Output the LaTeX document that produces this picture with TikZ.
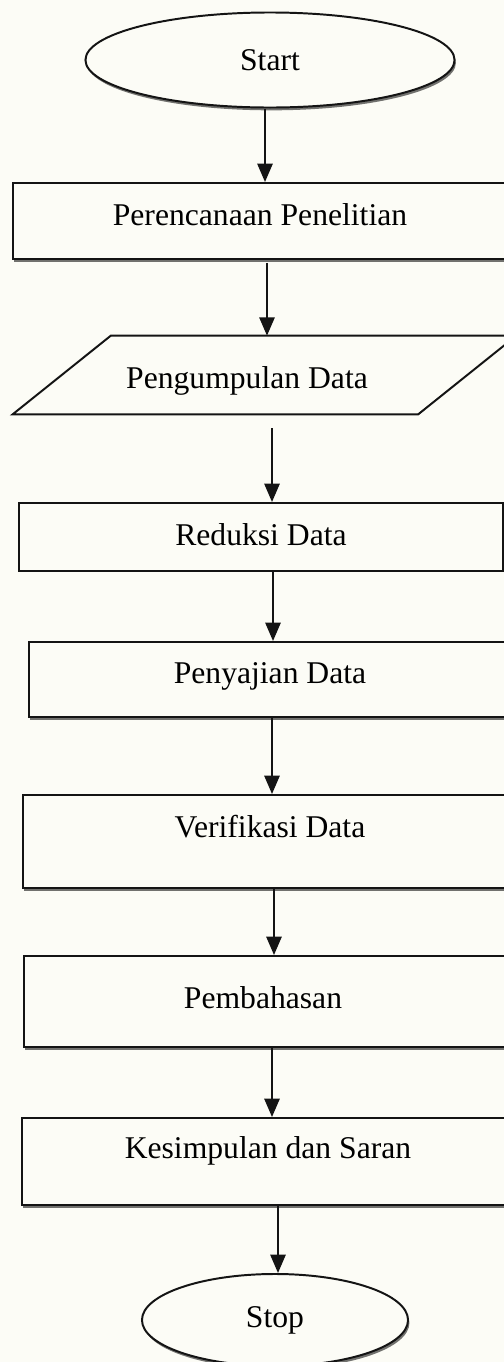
\documentclass[tikz,border=0pt]{standalone}
\usepackage{fontspec}
\setmainfont{Liberation Serif}
\usetikzlibrary{arrows.meta,positioning,shapes.geometric,shadows,fit}
\definecolor{paper}{RGB}{252,252,246}
\definecolor{ink}{RGB}{20,20,20}
\tikzset{
  flowbox/.style={draw=ink,line width=1.4pt,fill=paper,inner sep=0pt},
  shade/.style={drop shadow={shadow xshift=1pt,shadow yshift=-2pt,fill=black,opacity=.55}},
  term/.style={flowbox,shade,ellipse,font=\fontsize{22.5}{27}\selectfont},
  lbl/.style={font=\fontsize{22.5}{27}\selectfont,inner sep=0pt,text height=1.47ex,text depth=0pt},
  flow/.style={draw=ink,line width=1.6pt,-{Triangle[length=0.46cm,width=0.38cm]}}
}

\begin{document}
\begin{tikzpicture}[x=0.025cm,y=-0.025cm]
  \clip (0,0) rectangle (504,1362);
  \fill[paper] (0,0) rectangle (504,1362);

  % start / stop
  \node[term,minimum width=9.225cm,minimum height=2.375cm] (start) at (270,60) {Start};
  \node[term,minimum width=6.65cm,minimum height=2.3cm] (stop) at (275,1320) {Stop};

  % input (parallelogram)
  \node[inner sep=0pt,fit={(13,336) (516,414)}] (kumpul) {};
  \draw[flowbox] ([xshift=2.45cm]kumpul.north west) -- (kumpul.north east)
    -- ([xshift=-2.45cm]kumpul.south east) -- (kumpul.south west) -- cycle;

  % process boxes
  \foreach \n/\l/\t/\r/\b in {plan/13/183/506/259, sajian/29/642/520/717,
      verif/23/795/520/888, bahas/24/956/520/1047, simpul/22/1118/520/1205}
    \node[flowbox,shade,fit={(\l,\t) (\r,\b)}] (\n) {};
  \node[flowbox,fit={(19,503) (503,571)}] (reduksi) {};

  % texts
  \foreach \n/\t/\x/\y in {plan/Perencanaan Penelitian/260/221,
      kumpul/Pengumpulan Data/247/384, reduksi/Reduksi Data/261/541,
      sajian/Penyajian Data/270/679, verif/Verifikasi Data/270/833,
      bahas/Pembahasan/263/1004, simpul/Kesimpulan dan Saran/268/1154}
    \node[lbl] (\n-t) at (\x,\y) {\t};

  % arrows
  \foreach \a/\b/\x/\s in {start/plan/265/0pt, plan/kumpul/267/2pt,
      kumpul/reduksi/272/0.35cm, reduksi/sajian/273/0pt, sajian/verif/272/0pt,
      verif/bahas/274/0pt, bahas/simpul/272/0pt, simpul/stop/278/0pt}
    \draw[flow,shorten <=\s] (\x,0 |- \a.south) -- (\x,0 |- \b.north);
\end{tikzpicture}
\end{document}
